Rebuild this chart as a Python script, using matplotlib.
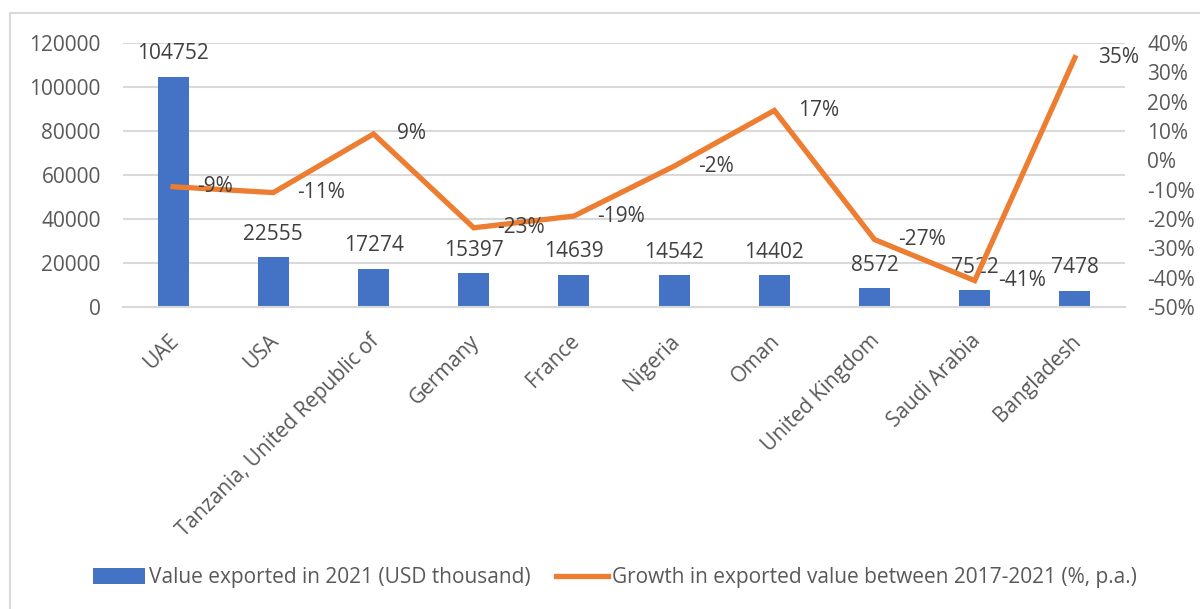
import matplotlib
matplotlib.use("Agg")
import matplotlib.pyplot as plt
from matplotlib.patches import Patch
from matplotlib.lines import Line2D
import matplotlib.transforms as mtransforms
import numpy as np

countries = ["UAE", "USA", "Tanzania, United Republic of", "Germany", "France",
             "Nigeria", "Oman", "United Kingdom", "Saudi Arabia", "Bangladesh"]
export_value = [104752, 22555, 17274, 15397, 14639, 14542, 14402, 8572, 7522, 7478]
growth_pct = [-9, -11, 9, -23, -19, -2, 17, -27, -41, 35]

BLUE = "#4472C4"
ORANGE = "#ED7D31"
GRID = "#D9D9D9"
TXT = "#595959"
LBL = "#404040"
FONT = "Open Sans"
FS = 15

plt.rcParams['font.family'] = [FONT, 'DejaVu Sans']

W, H = 1200, 609
fig = plt.figure(figsize=(W / 100, H / 100), dpi=100)
ax = fig.add_axes([123 / W, 1 - 307 / H, (1125 - 123) / W, (307 - 43) / H])
ax2 = ax.twinx()

x = np.arange(len(countries))
ax.bar(x, export_value, width=0.31, color=BLUE, zorder=2)
ax.set_xlim(-0.5, len(countries) - 0.5)
ax.set_ylim(0, 120000)
ax.set_yticks(np.arange(0, 120001, 20000))
ax.yaxis.grid(True, color=GRID, linewidth=1.5, zorder=0)
ax.set_axisbelow(True)
for s in ["top", "right", "left"]:
    ax.spines[s].set_visible(False)
ax.spines["bottom"].set_color(GRID)
ax.spines["bottom"].set_linewidth(1.5)
ax.tick_params(axis="y", length=0, pad=16, labelsize=FS, labelcolor=TXT)
ax.tick_params(axis="x", length=0, pad=17, labelsize=FS, labelcolor=TXT)
ax.set_xticks(x)
ax.set_xticklabels(countries, rotation=45, ha="right", va="top", rotation_mode="anchor")
offset = mtransforms.ScaledTranslation(-5 / 100, 0, fig.dpi_scale_trans)
for lab in ax.get_xticklabels():
    lab.set_transform(lab.get_transform() + offset)

for xi, v in zip(x, export_value):
    ax.annotate(f"{v}", (xi, v), xytext=(0, 9), textcoords="offset points",
                ha="center", va="bottom", fontsize=FS, color=LBL)

ax2.plot(x, growth_pct, color=ORANGE, linewidth=3.8, solid_joinstyle="miter", zorder=3)
ax2.set_ylim(-50, 40)
ax2.set_yticks(np.arange(-50, 41, 10))
ax2.set_yticklabels([f"{t}%" for t in range(-50, 41, 10)])
for s in ["top", "right", "left", "bottom"]:
    ax2.spines[s].set_visible(False)
ax2.tick_params(axis="y", length=0, pad=16, labelsize=FS, labelcolor=TXT)
for xi, g in zip(x, growth_pct):
    ax2.annotate(f"{g}%", (xi, g), xytext=(17, 0), textcoords="offset points",
                 ha="left", va="center", fontsize=FS, color=LBL)

# outer chart border (partially visible)
fig.add_artist(Line2D([10 / W, 1.0], [1 - 13 / H, 1 - 13 / H], color=GRID, linewidth=1.5,
                      transform=fig.transFigure))
fig.add_artist(Line2D([10 / W, 10 / W], [0.0, 1 - 13 / H], color=GRID, linewidth=1.5,
                      transform=fig.transFigure))

handles = [Patch(facecolor=BLUE, edgecolor="none"),
           Line2D([0], [0], color=ORANGE, linewidth=3.8)]
fig.legend(handles, ["Value exported in 2021 (USD thousand)",
                     "Growth in exported value between 2017-2021 (%, p.a.)"],
           loc="center", bbox_to_anchor=(615 / W, 1 - 578 / H), ncol=2, frameon=False,
           fontsize=FS, labelcolor=TXT, handlelength=2.5, handletextpad=0.2,
           columnspacing=1.2, handleheight=0.8)

fig.savefig("out.png", dpi=100)
